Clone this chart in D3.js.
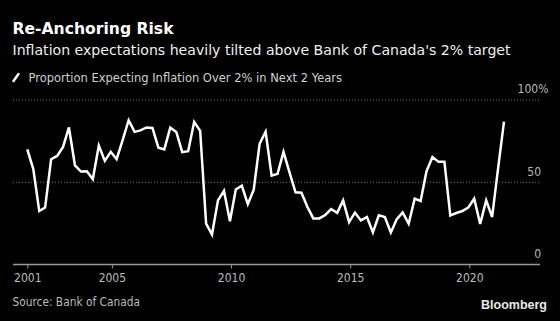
<!DOCTYPE html>
<html>
<head>
<meta charset="utf-8">
<script src="https://cdnjs.cloudflare.com/ajax/libs/d3/7.8.5/d3.min.js"></script>
<style>
body { margin: 0; background: #000; }
svg { display: block; }
text { font-family: "DejaVu Sans Condensed", "DejaVu Sans", sans-serif; }
</style>
</head>
<body>
<script>
"use strict";

// quarterly survey, first point mid-2001
var firstQuarter = new Date(2001, 5, 15);
var proportion = [
    70, 58, 32.5, 34.6, 64, 66, 71.5, 83.3, 60.3, 56.5,
    56.7, 51.8, 72.3, 63, 68.5, 64, 75.6, 87.7, 80.6, 81.5,
    83.3, 83, 71, 70, 83.2, 80.6, 68.3, 68.9, 86.7, 81.2,
    24.8, 18.2, 39, 44.8, 26.3, 45.6, 47.9, 36.7, 45.5, 73.4,
    80.7, 54, 55.1, 68.5, 56, 43.9, 43.6, 35.1, 28, 28,
    30.1, 33.7, 31.4, 39, 25.8, 31.5, 26.8, 28.9, 19.5, 29.9,
    28.9, 19.5, 27.6, 31.7, 24.8, 40, 38.6, 56.6, 65.4, 62.4,
    62.4, 29.8, 31.3, 32.5, 34.6, 40, 24.6, 39, 28.9, 58,
    86.8
];
var yearTicks = [2005, 2010, 2015, 2020];
var yTicks = [0, 50, 100];

var title = "Re-Anchoring Risk";
var subtitle = "Inflation expectations heavily tilted above Bank of Canada's 2% target";
var legendLabel = "Proportion Expecting Inflation Over 2% in Next 2 Years";
var sourceLabel = "Source: Bank of Canada";

function makeSeries() {
    return proportion.map(function(v, i) {
        return { "date": d3.timeMonth.offset(firstQuarter, i * 3), "value": v };
    });
}

function drawChart(series) {
    var width = 560;
    var height = 321;
    var plot = { left: 13, right: 540, top: 100, bottom: 264.5 };
    var wide = "'DejaVu Sans', sans-serif";

    var svg = d3.select("body")
        .append("svg")
        .attr("width", width)
        .attr("height", height)
        .style("background", "#000");

    var x = d3.scaleTime()
        .domain(d3.extent(series, function(d) { return d.date; }))
        .range([27.3, 504]);
    var y = d3.scaleLinear()
        .domain([0, 100])
        .range([plot.bottom, plot.top]);

    // headings
    svg.append("text")
        .attr("x", 12.5).attr("y", 34)
        .attr("fill", "#fff")
        .attr("font-size", 15.6)
        .attr("font-weight", "bold")
        .style("font-family", wide)
        .text(title);
    svg.append("text")
        .attr("x", 12.5).attr("y", 55)
        .attr("fill", "#f0f0f0")
        .attr("font-size", 14.1)
        .style("font-family", wide)
        .text(subtitle);

    // legend
    svg.append("line")
        .attr("x1", 13.5).attr("y1", 81)
        .attr("x2", 18.5).attr("y2", 74)
        .attr("stroke", "#fff")
        .attr("stroke-width", 2.5)
        .attr("stroke-linecap", "round");
    svg.append("text")
        .attr("x", 28.5).attr("y", 81.5)
        .attr("fill", "#d0d0d0")
        .attr("font-size", 11.5)
        .style("font-family", wide)
        .text(legendLabel);

    // y grid + labels
    var grid = svg.append("g").attr("class", "grid");
    grid.selectAll("line")
        .data(yTicks.filter(function(d) { return d > 0; }))
        .enter()
        .append("line")
        .attr("x1", plot.left).attr("x2", plot.right)
        .attr("y1", function(d) { return y(d); })
        .attr("y2", function(d) { return y(d); })
        .attr("stroke", "#777")
        .attr("stroke-width", 1)
        .attr("stroke-dasharray", "1,2");

    var yAxis = d3.axisRight(y)
        .tickValues(yTicks)
        .tickSize(0)
        .tickFormat(function(d) { return d == 100 ? "100%" : d; });
    var yG = svg.append("g")
        .attr("transform", "translate(541,0)")
        .call(yAxis);
    yG.select(".domain").remove();
    yG.selectAll("text")
        .attr("x", 0)
        .attr("dy", "-0.6em")
        .attr("text-anchor", "end")
        .attr("fill", "#bbb")
        .attr("font-size", 12)
        .attr("font-family", null);
    yG.selectAll(".tick").filter(function(d) { return d == 100; }).select("text")
        .attr("dx", "0.62em");

    // x axis
    var xTickDates = [x.domain()[0]].concat(yearTicks.map(function(yr) { return new Date(yr, 0, 1); }));
    var xAxis = d3.axisBottom(x)
        .tickValues(xTickDates)
        .tickSize(4)
        .tickPadding(5)
        .tickFormat(d3.timeFormat("%Y"));
    var xG = svg.append("g")
        .attr("transform", "translate(0," + plot.bottom + ")")
        .call(xAxis);
    xG.select(".domain")
        .attr("d", "M" + plot.left + ",0H" + plot.right)
        .attr("stroke", "#999")
        .attr("stroke-width", 1.5);
    xG.selectAll(".tick line")
        .attr("stroke", "#999");
    xG.selectAll("text")
        .attr("fill", "#bbb")
        .attr("font-size", 12)
        .attr("font-family", null);

    // the series
    var line = d3.line()
        .x(function(d) { return x(d.date); })
        .y(function(d) { return y(d.value); });
    svg.append("path")
        .datum(series)
        .attr("fill", "none")
        .attr("stroke", "#fff")
        .attr("stroke-width", 2.5)
        .attr("stroke-linejoin", "miter")
        .attr("d", line);

    // footer
    svg.append("text")
        .attr("x", 12.5).attr("y", 306)
        .attr("fill", "#bbb")
        .attr("font-size", 11.8)
        .text(sourceLabel);
    svg.append("text")
        .attr("x", 547).attr("y", 309)
        .attr("text-anchor", "end")
        .attr("fill", "#e8e8e8")
        .attr("font-size", 12.5)
        .attr("font-weight", "bold")
        .style("font-family", "'Liberation Sans', Arial, sans-serif")
        .text("Bloomberg");
}

drawChart(makeSeries());
</script>
</body>
</html>
